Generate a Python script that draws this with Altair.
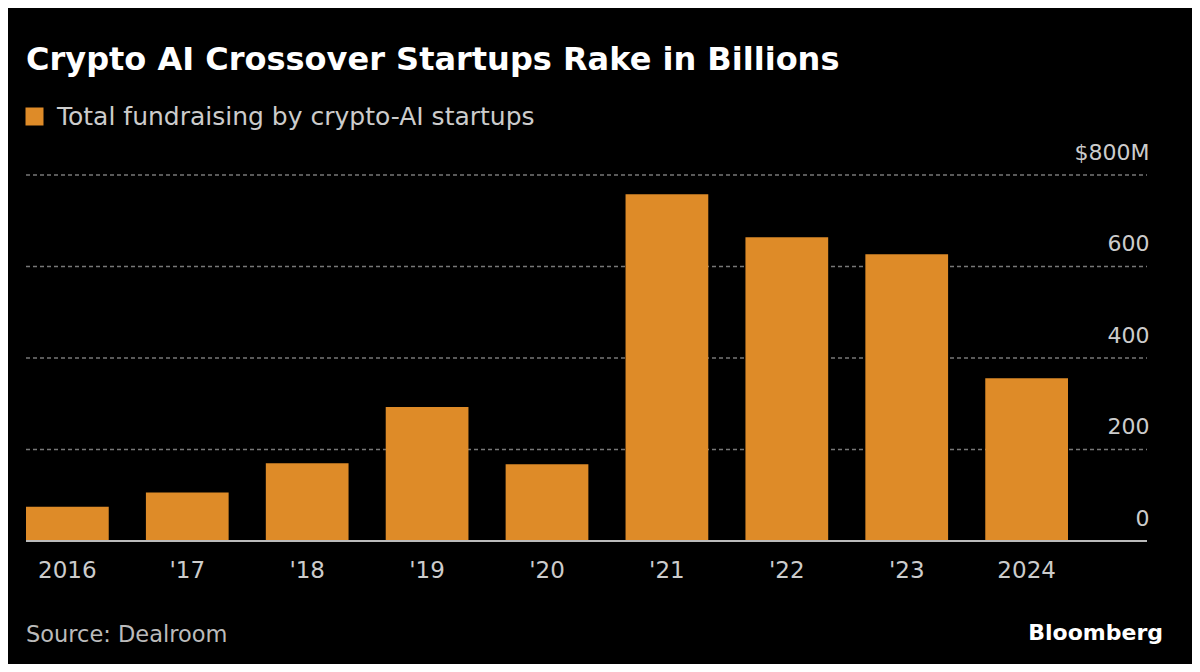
import altair as alt
import pandas as pd

years = ["2016", "'17", "'18", "'19", "'20", "'21", "'22", "'23", "2024"]
values = [75, 106, 170, 293, 168, 758, 664, 627, 356]
series_name = "Total fundraising by crypto-AI startups"
y_ticks = [0, 200, 400, 600, 800]
title_text = "Crypto AI Crossover Startups Rake in Billions"
source_text = "Source: Dealroom"
brand_text = "Bloomberg"

df = pd.DataFrame({"year": years, "value": values, "series": [series_name] * len(years)})
grid_df = pd.DataFrame({"tick": y_ticks[1:]})

W, H = 1121, 366
FONT = "DejaVu Sans"
Y_SCALE = alt.Scale(domain=[0, 800], nice=False)

grid = alt.Chart(grid_df).mark_rule(color="#777777", strokeWidth=1.5, strokeDash=[4, 3]).encode(
    y=alt.Y("tick:Q", scale=Y_SCALE, title=None),
    x=alt.value(0), x2=alt.value(W),
)

bars = alt.Chart(df).mark_bar(color="#DE8B28").encode(
    x=alt.X("year:N", sort=years, title=None,
            scale=alt.Scale(domain=years, range=[0, 1042], paddingInner=0.31, paddingOuter=0),
            axis=alt.Axis(domain=False, ticks=False, tickSize=0, labelPadding=18, labelFontSize=23,
                          labelColor="#cccccc", labelFont=FONT, labelAngle=0, grid=False)),
    y=alt.Y("value:Q", title=None, scale=Y_SCALE,
            axis=alt.Axis(orient="right", values=y_ticks, domain=False, ticks=False, tickSize=0,
                          labelAlign="right", labelPadding=2, labelBaseline="alphabetic", labelOffset=-16,
                          labelFontSize=22, labelColor="#cccccc", labelFont=FONT,
                          labelExpr="datum.value == 800 ? '$800M' : datum.label",
                          grid=False)),
    color=alt.Color("series:N", scale=alt.Scale(range=["#DE8B28"]), title=None,
                    legend=alt.Legend(orient="none", legendX=-4, legendY=-71, symbolType="square",
                                      symbolSize=324, symbolStrokeWidth=0, labelFontSize=25,
                                      labelColor="#cccccc", labelFont=FONT, labelLimit=800,
                                      labelOffset=10, symbolOffset=0, padding=0)),
)

base_rule = alt.Chart(pd.DataFrame({"z": [0]})).mark_rule(color="#bbbbbb", strokeWidth=2).encode(
    y=alt.Y("z:Q", scale=Y_SCALE),
    x=alt.value(0), x2=alt.value(W),
)

title = alt.Chart(pd.DataFrame({"t": [title_text]})).mark_text(
    align="left", baseline="alphabetic", fontSize=32, fontWeight="bold", color="#ffffff", font=FONT
).encode(text="t:N", x=alt.value(0), y=alt.value(-105))

source = alt.Chart(pd.DataFrame({"t": [source_text]})).mark_text(
    align="left", baseline="alphabetic", fontSize=22.5, color="#bbbbbb", font=FONT
).encode(text="t:N", x=alt.value(0), y=alt.value(467))

brand = alt.Chart(pd.DataFrame({"t": [brand_text]})).mark_text(
    align="right", baseline="alphabetic", fontSize=22, fontWeight="bold", color="#ffffff", font=FONT
).encode(text="t:N", x=alt.value(1137), y=alt.value(465))

chart = alt.layer(grid, bars, base_rule, title, source, brand).resolve_scale(y="shared").properties(
    width=W, height=H,
    background="#000000",
    autosize=alt.AutoSizeParams(type="none"),
    padding={"left": 18, "right": 45, "top": 167, "bottom": 123},
).configure_view(stroke=None)

chart.save("out.html", embed_options={"renderer": "svg", "actions": False})
